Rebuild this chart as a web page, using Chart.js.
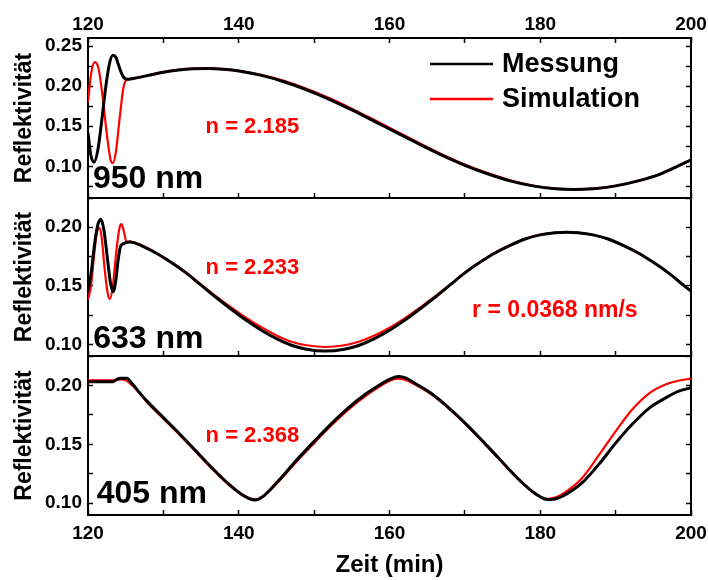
<!DOCTYPE html>
<html>
<head>
<meta charset="utf-8">
<script src="https://cdn.jsdelivr.net/npm/chart.js@4.4.1/dist/chart.umd.min.js"></script>
<style>
  html, body { margin: 0; padding: 0; background: #fff; }
  #wrap { position: relative; width: 708px; height: 580px; overflow: hidden; }
  canvas { position: absolute; left: 0; }
</style>
</head>
<body>
<div id="wrap">
  <canvas id="p950" width="708" height="200" style="top:0"></canvas>
  <canvas id="p633" width="708" height="170" style="top:190px"></canvas>
  <canvas id="p405" width="708" height="232" style="top:348px"></canvas>
</div>
<script>
// 950 nm
const t950Mess = [120, 120.35, 120.8, 121.3, 121.8, 122.3, 122.8, 123.3, 123.7, 124.1, 124.6, 125.2, 126, 128, 130, 132, 134, 136, 138, 140, 143, 146, 149, 152, 155, 158, 161, 164, 167, 170, 173, 176, 179, 182, 184.5, 187, 190, 193, 196, 200]
const r950Mess = [0.142, 0.115, 0.105, 0.120, 0.155, 0.195, 0.226, 0.2385, 0.236, 0.225, 0.213, 0.2085, 0.2095, 0.2134, 0.2174, 0.2201, 0.2216, 0.222, 0.221, 0.2189, 0.2134, 0.2055, 0.1954, 0.1836, 0.1703, 0.1561, 0.1417, 0.1274, 0.1137, 0.1013, 0.0907, 0.0819, 0.0756, 0.0719, 0.071, 0.072, 0.0756, 0.0819, 0.0907, 0.108]
const t950Sim = [120, 120.4, 120.9, 121.4, 121.9, 122.5, 123.0, 123.3, 123.7, 124.2, 124.7, 125.2, 126, 128, 130, 132, 134, 136, 138, 140, 143, 146, 149, 152, 155, 158, 161, 164, 167, 170, 173, 176, 179, 182, 184.5, 187, 190, 193, 196, 200]
const r950Sim = [0.180, 0.215, 0.230, 0.222, 0.190, 0.140, 0.108, 0.104, 0.118, 0.160, 0.198, 0.2085, 0.2095, 0.2136, 0.2176, 0.2203, 0.2218, 0.2222, 0.2213, 0.2193, 0.214, 0.2065, 0.1967, 0.1851, 0.1719, 0.1577, 0.1432, 0.1288, 0.1149, 0.1023, 0.0915, 0.0825, 0.076, 0.0721, 0.0711, 0.0721, 0.0757, 0.082, 0.0908, 0.1082]

// 633 nm
const t633Mess = [120, 120.4, 120.9, 121.3, 121.7, 122.1, 122.6, 123.0, 123.35, 123.7, 124.0, 124.3, 124.7, 125.1, 125.6, 127, 129, 131, 133, 135, 137, 139, 141, 143, 145, 147, 149, 151.5, 154, 156, 158, 160, 162, 164, 166, 168, 170, 172, 174, 176, 178, 180, 182, 183.5, 185, 187, 189, 191, 193, 195, 197, 199, 200]
const r633Mess = [0.146, 0.160, 0.187, 0.202, 0.2068, 0.198, 0.172, 0.152, 0.145, 0.155, 0.172, 0.1834, 0.186, 0.187, 0.1875, 0.1845, 0.178, 0.170, 0.161, 0.1505, 0.140, 0.130, 0.1205, 0.112, 0.1048, 0.0992, 0.0958, 0.0942, 0.0958, 0.0992, 0.1048, 0.112, 0.1205, 0.130, 0.140, 0.1505, 0.161, 0.170, 0.178, 0.1845, 0.190, 0.1935, 0.1953, 0.1957, 0.1953, 0.1935, 0.190, 0.1845, 0.178, 0.170, 0.161, 0.1505, 0.1455]
const t633Sim = [120, 120.4, 120.8, 121.2, 121.5, 121.8, 122.2, 122.6, 122.9, 123.3, 123.8, 124.2, 124.45, 124.7, 125.1, 125.6, 127, 129, 131, 133, 135, 137, 139, 141, 143, 145, 147, 149, 151.5, 154, 156, 158, 160, 162, 164, 166, 168, 170, 172, 174, 176, 178, 180, 182, 183.5, 185, 187, 189, 191, 193, 195, 197, 199, 200]
const r633Sim = [0.138, 0.150, 0.176, 0.196, 0.1994, 0.192, 0.165, 0.144, 0.1387, 0.150, 0.182, 0.200, 0.2028, 0.198, 0.188, 0.1878, 0.1848, 0.1783, 0.1703, 0.1614, 0.151, 0.141, 0.1315, 0.1225, 0.1145, 0.1076, 0.1022, 0.0992, 0.0977, 0.0992, 0.1024, 0.1075, 0.1142, 0.1222, 0.131, 0.1408, 0.1508, 0.1612, 0.1702, 0.1782, 0.1847, 0.1902, 0.1937, 0.1955, 0.1959, 0.1955, 0.1935, 0.190, 0.1845, 0.178, 0.170, 0.161, 0.1505, 0.1455]

// 405 nm
const t405Mess = [120, 123.3, 123.8, 124.3, 125.2, 125.6, 126.5, 127.8, 130, 132.2, 134.4, 136.6, 138.8, 140.3, 141.3, 142.2, 143.1, 144.2, 145.6, 147.8, 150, 152.2, 154.5, 156.8, 159, 160.2, 161.2, 162.2, 163.4, 165.7, 167.9, 170.2, 172.4, 174.6, 176.8, 178, 179, 180, 180.9, 181.8, 182.6, 183.4, 185.5, 187.8, 190, 192.2, 194.5, 196.7, 198.3, 200]
const r405Mess = [0.2032, 0.2032, 0.2052, 0.2062, 0.2062, 0.2035, 0.1965, 0.1869, 0.1727, 0.1586, 0.1438, 0.129, 0.1155, 0.1078, 0.1042, 0.1027, 0.1052, 0.1118, 0.1215, 0.1375, 0.1525, 0.167, 0.1808, 0.1925, 0.2017, 0.2058, 0.2075, 0.2062, 0.2017, 0.1925, 0.1808, 0.167, 0.1525, 0.1375, 0.1225, 0.1152, 0.1098, 0.1055, 0.1032, 0.1034, 0.105, 0.1075, 0.117, 0.1332, 0.151, 0.167, 0.181, 0.1897, 0.195, 0.198]
const t405Sim = [120, 123.6, 124.4, 125.0, 125.8, 126.5, 127.8, 130, 132.2, 134.4, 136.6, 138.8, 140.3, 141.3, 142.2, 143.1, 144.2, 145.6, 147.8, 150, 152.2, 154.5, 156.8, 159, 160.2, 161.2, 162.2, 163.4, 165.7, 167.9, 170.2, 172.4, 174.6, 176.8, 178, 179, 180, 180.9, 181.8, 182.6, 183.4, 185.5, 187.8, 190, 192.2, 194.5, 196.7, 198.3, 200]
const r405Sim = [0.2044, 0.2044, 0.2052, 0.2045, 0.2005, 0.196, 0.186, 0.1718, 0.1578, 0.143, 0.1283, 0.115, 0.108, 0.1046, 0.1032, 0.105, 0.1112, 0.1205, 0.1362, 0.151, 0.1655, 0.1793, 0.191, 0.2003, 0.2045, 0.2058, 0.2045, 0.2008, 0.1918, 0.1803, 0.1665, 0.152, 0.137, 0.122, 0.1148, 0.1095, 0.1055, 0.1037, 0.1045, 0.1066, 0.1097, 0.121, 0.141, 0.161, 0.1795, 0.1935, 0.201, 0.204, 0.2058]

const xRange = [120, 200]
const yRange950 = [0.0605, 0.26]
const yRange633 = [0.09, 0.225]
const yRange405 = [0.09, 0.225]
const seriesNames = ['Messung', 'Simulation']

;(function () {
  const FONT = "'Liberation Sans', Arial, Helvetica, sans-serif"
  const BLACK = '#000000'
  const RED = '#ff0000'

  function isMajor(v, step) {
    return Math.abs(Math.round(v / step) * step - v) < 1e-6
  }

  function toPoints(xs, ys) {
    return xs.map((x, i) => ({ x, y: ys[i] }))
  }

  function boldFont(size) {
    return { family: FONT, size, weight: 'bold' }
  }

  // fixed axis sizes, no extra room for end labels
  function fitTo(prop, size) {
    return (s) => {
      s[prop] = size
      s.paddingTop = 0
      s.paddingBottom = 0
      s.paddingLeft = 0
      s.paddingRight = 0
    }
  }

  const frame = { color: BLACK, width: 2 }
  const tickGrid = { drawOnChartArea: false, tickLength: -5, tickColor: BLACK, tickWidth: 1.5 }

  function yAxis(range, position) {
    const left = position === 'left'
    return {
      type: 'linear',
      position,
      min: range[0],
      max: range[1],
      afterFit: fitTo('width', left ? 88 : 17),
      border: frame,
      grid: tickGrid,
      ticks: {
        display: left,
        stepSize: 0.025,
        includeBounds: false,
        autoSkip: false,
        padding: 11,
        color: BLACK,
        font: boldFont(19),
        callback: (v) => (isMajor(v, 0.05) ? v.toFixed(2) : '')
      },
      title: {
        display: left,
        text: 'Reflektivität',
        color: BLACK,
        font: boldFont(23),
        padding: { top: 11, bottom: 0 }
      }
    }
  }

  function xAxis(position, height, withLabels, withTitle) {
    return {
      type: 'linear',
      position,
      min: xRange[0],
      max: xRange[1],
      afterFit: fitTo('height', height),
      border: frame,
      grid: tickGrid,
      ticks: {
        display: withLabels,
        stepSize: 10,
        autoSkip: false,
        maxRotation: 0,
        padding: position === 'top' ? 7 : 12,
        color: BLACK,
        font: boldFont(19),
        callback: (v) => (isMajor(v, 20) ? String(v) : '')
      },
      title: {
        display: withTitle,
        text: 'Zeit (min)',
        color: BLACK,
        font: boldFont(24),
        padding: 0
      }
    }
  }

  // texts placed in data coordinates of each panel
  const panelText = {
    id: 'panelText',
    afterDatasetsDraw(chart, args, opts) {
      const { ctx } = chart
      const x = chart.scales.x
      const y = chart.scales.y
      ctx.save()
      ;(opts.items || []).forEach((it) => {
        ctx.font = `bold ${it.size}px ${FONT}`
        ctx.fillStyle = it.color
        ctx.textBaseline = 'alphabetic'
        ctx.textAlign = 'left'
        ctx.fillText(it.text, x.getPixelForValue(it.x), y.getPixelForValue(it.y))
      })
      ctx.restore()
    }
  }

  const lineLegend = {
    id: 'lineLegend',
    afterDatasetsDraw(chart, args, opts) {
      if (!opts.show) return
      const { ctx } = chart
      ctx.save()
      chart.data.datasets.forEach((ds, i) => {
        const y = opts.top + i * opts.rowGap
        ctx.strokeStyle = ds.borderColor
        ctx.lineWidth = 2.5
        ctx.beginPath()
        ctx.moveTo(opts.left, y)
        ctx.lineTo(opts.left + opts.lineLen, y)
        ctx.stroke()
        ctx.font = `bold ${opts.size}px ${FONT}`
        ctx.fillStyle = BLACK
        ctx.textBaseline = 'middle'
        ctx.fillText(ds.label, opts.left + opts.lineLen + 9, y + 1)
      })
      ctx.restore()
    }
  }

  function makePanel(id, cfg) {
    const scales = {
      x: xAxis('bottom', cfg.bottomHeight, cfg.bottomLabels, cfg.bottomLabels),
      y: yAxis(cfg.yRange, 'left'),
      yR: yAxis(cfg.yRange, 'right')
    }
    if (cfg.topAxis) scales.xTop = xAxis('top', 38, true, false)

    return new Chart(document.getElementById(id), {
      type: 'line',
      data: {
        datasets: [
          {
            label: seriesNames[0],
            data: toPoints(cfg.tMess, cfg.rMess),
            borderColor: BLACK,
            borderWidth: 3,
            pointRadius: 0,
            cubicInterpolationMode: 'monotone'
          },
          {
            label: seriesNames[1],
            data: toPoints(cfg.tSim, cfg.rSim),
            borderColor: RED,
            borderWidth: 2.2,
            pointRadius: 0,
            cubicInterpolationMode: 'monotone'
          }
        ]
      },
      options: {
        responsive: false,
        animation: false,
        devicePixelRatio: 1,
        layout: { padding: { top: cfg.topAxis ? 0 : 8, left: 0, right: 0, bottom: 0 } },
        scales,
        plugins: {
          legend: { display: false },
          tooltip: { enabled: false },
          panelText: { items: cfg.texts },
          lineLegend: cfg.legend || { show: false }
        }
      },
      plugins: [panelText, lineLegend]
    })
  }

  makePanel('p950', {
    tMess: t950Mess, rMess: r950Mess, tSim: t950Sim, rSim: r950Sim,
    yRange: yRange950, topAxis: true, bottomHeight: 2, bottomLabels: false,
    texts: [
      { text: '950 nm', x: 120.66, y: 0.0725, size: 32, color: BLACK },
      { text: 'n = 2.185', x: 135.6, y: 0.1413, size: 22, color: RED }
    ],
    legend: { show: true, left: 430, top: 64, rowGap: 35, lineLen: 63, size: 27 }
  })

  makePanel('p633', {
    tMess: t633Mess, rMess: r633Mess, tSim: t633Sim, rSim: r633Sim,
    yRange: yRange633, topAxis: false, bottomHeight: 4, bottomLabels: false,
    texts: [
      { text: '633 nm', x: 120.7, y: 0.0968, size: 32, color: BLACK },
      { text: 'n = 2.233', x: 135.6, y: 0.160, size: 22, color: RED },
      { text: 'r = 0.0368 nm/s', x: 170.95, y: 0.123, size: 23, color: RED }
    ]
  })

  makePanel('p405', {
    tMess: t405Mess, rMess: r405Mess, tSim: t405Sim, rSim: r405Sim,
    yRange: yRange405, topAxis: false, bottomHeight: 65, bottomLabels: true,
    texts: [
      { text: '405 nm', x: 121.15, y: 0.1004, size: 32, color: BLACK },
      { text: 'n = 2.368', x: 135.6, y: 0.1521, size: 22, color: RED }
    ]
  })
})()
</script>
</body>
</html>
